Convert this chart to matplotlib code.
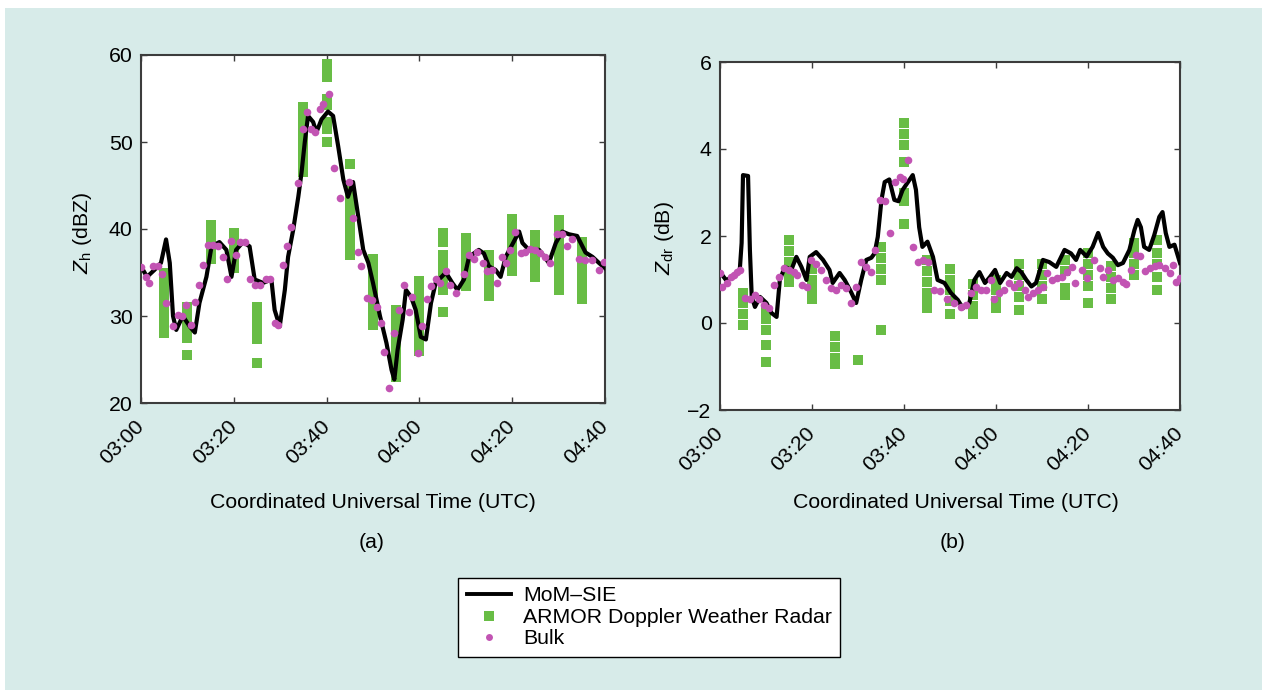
#!/usr/bin/env python
#
# Zh and Zdr time series: MoM-SIE vs ARMOR radar vs bulk
#
import numpy as np
import matplotlib
matplotlib.use("Agg")
from matplotlib import pyplot as plt
from matplotlib.patches import Rectangle
from matplotlib.lines import Line2D

######################################################
# Data (minutes after 03:00 UTC)
######################################################
tick_min = [0, 20, 40, 60, 80, 100]
tick_labels = ["03:00", "03:20", "03:40", "04:00", "04:20", "04:40"]

# (a) Zh
mom_a_t = [0, 1.3, 2.9, 4.3, 5.4, 6.2, 6.9, 7.6, 9, 10.5, 11.6, 12.6, 14.1, 15.2, 16.9,
           18.4, 19.5, 20.5, 22, 23.4, 24.5, 26.3, 28.1, 28.8, 29.9, 31, 31.7, 32.8, 33.9,
           34.6, 35.3, 36, 37.1, 37.8, 38.9, 40.3, 41.4, 42.5, 43.6, 44.6, 45.7, 46.8, 47.9,
           49, 50, 51.5, 52.9, 54, 54.6, 55.3, 56.4, 57.1, 58.2, 59.2, 60.3, 61.4, 62.5,
           63.5, 65.7, 67.1, 68.2, 69.6, 70.7, 72.8, 73.9, 75, 76.4, 77.5, 78.6, 79.6, 81.5,
           82.2, 83.6, 85.8, 87.9, 89.4, 90.8, 92.2, 94, 95.8, 97.3, 98.7, 100]
mom_a_v = [35.7, 34.5, 35.3, 36.1, 38.8, 36.1, 30, 28.4, 30, 28.8, 28.1, 31.5, 34.5, 38,
           38.5, 37.6, 34.5, 37.6, 38.5, 38, 34.2, 33.8, 34.2, 30.7, 28.8, 33, 36.8, 39.9,
           43.7, 46.5, 50, 53, 52.3, 51.1, 52.6, 53.5, 53, 49.5, 45.7, 43.7, 45.4, 41.5,
           37.6, 36.1, 33.8, 30, 26.9, 23.8, 22.7, 26.1, 29.6, 33, 32.2, 30.7, 27.6, 27.3,
           31.5, 33.8, 35, 33.8, 33, 34.2, 36.8, 37.6, 37.2, 35.7, 35.3, 34.5, 36.8, 37.8,
           39.7, 38.4, 37.6, 37.6, 36.1, 38.4, 39.7, 39.4, 39.2, 37.3, 36.8, 36.1, 35.5]

bulk_a_t = [0, 1, 1.7, 2.6, 3.7, 4.6, 5.3, 6.8, 8, 8.8, 9.6, 10.7, 11.7, 12.6, 13.4, 14.5,
            15.6, 16.7, 17.6, 18.6, 19.5, 20.5, 21.3, 22.5, 23.4, 24.5, 25.6, 26.9, 27.8,
            28.8, 29.5, 30.6, 31.4, 32.4, 33.8, 35, 35.8, 36.7, 37.6, 38.6, 39.3, 40.5, 41.5,
            42.9, 44.8, 45.6, 46.7, 47.4, 48.8, 49.8, 50.8, 51.7, 52.4, 53.5, 54.6, 55.6,
            56.7, 57.8, 58.5, 59.6, 60.6, 61.7, 62.4, 63.5, 64.5, 65.7, 66.7, 67.8, 69.6,
            70.7, 71.7, 72.5, 73.6, 74.6, 75.7, 76.8, 77.8, 78.6, 79.6, 80.7, 81.8, 82.8,
            83.9, 85, 86, 87.1, 88.2, 89.6, 90.7, 91.8, 92.8, 94.3, 95.7, 97.2, 98.6, 99.7]
bulk_a_v = [35.6, 34.5, 33.8, 35.8, 35.8, 34.8, 31.5, 28.8, 30.1, 30, 31.3, 29, 31.6, 33.6,
            35.9, 38.2, 38.2, 38, 36.8, 34.2, 38.6, 37, 38.5, 38.5, 34.2, 33.6, 33.6, 34.3,
            34.2, 29.2, 29, 35.9, 38, 40.2, 45.3, 51.5, 53.5, 51.5, 51.1, 53.8, 54.4, 55.5,
            47, 43.6, 45.4, 41.3, 37.3, 35.7, 32.1, 31.8, 31, 29.2, 25.9, 21.7, 28.1, 30.7,
            33.6, 30.5, 32.2, 25.8, 28.8, 32, 33.4, 34.2, 33.8, 35.2, 33.6, 32.6, 34.8, 37,
            36.6, 37.4, 36.1, 35.2, 35.3, 33.8, 36.8, 36.1, 37.6, 39.7, 37.2, 37.3, 37.7,
            37.6, 37.2, 36.8, 36.1, 39.4, 39.4, 38, 38.8, 36.6, 36.4, 36.4, 35.3, 36.2]

radar_a_t = [5, 10, 15, 20, 25, 35, 40, 45, 50, 55, 60, 65, 70, 75, 80, 85, 90, 95]
radar_a_v = [
    [35, 34, 33, 32, 31, 30, 29, 28],
    [31, 30, 29, 28, 27.5, 25.5],
    [40.5, 39.5, 38.5, 37.5, 36.5],
    [39.5, 38.5, 37.5, 36.5, 35.5],
    [31, 30, 29, 28, 27.3, 24.6],
    [54, 53, 52, 51, 50, 49, 48, 47, 46.5],
    [59, 58, 57.5, 55, 54.2, 52.3, 51.5, 50],
    [47.5, 44.5, 43.5, 42.5, 41.5, 40.5, 39.5, 38.5, 37.5, 37],
    [36.5, 35.5, 34.5, 33.5, 32.5, 31.5, 30.5, 29.5, 29],
    [30.7, 29.5, 28.5, 27.5, 26.5, 25.5, 24.5, 23.5, 23],
    [34, 33, 32, 31, 30, 29, 28, 27, 26],
    [39.5, 38.5, 37, 36, 35, 34, 33, 30.5],
    [39, 38, 37, 36, 35, 34, 33.5],
    [37, 36, 35, 34, 33, 32.3],
    [41.2, 40, 39, 38, 37, 36, 35.2],
    [39.3, 38.3, 37.3, 36.3, 35.3, 34.5],
    [41, 40, 39, 38, 37, 36, 35, 34, 33],
    [38.5, 37.5, 36.5, 35.5, 34.5, 33.5, 32.5, 32],
]

# (b) Zdr
mom_b_t = [0, 1.3, 2.8, 4.3, 4.7, 5.0, 6.1, 6.5, 6.9, 7.6, 8.7, 10.1, 11.2, 12.3, 13, 14.1,
           15.5, 16.6, 17.7, 18.8, 19.5, 20.9, 22.4, 23.8, 24.5, 26, 27.1, 28.5, 29.6, 30.7,
           31.8, 32.9, 33.6, 34.3, 35.1, 35.8, 36.8, 37.9, 38.8, 39.7, 41.9, 42.6, 43.3, 44,
           45.1, 46.3, 47.3, 48.8, 50.2, 51.7, 52.8, 54.2, 55.3, 56.4, 57.6, 58.7, 59.8, 60.9,
           62.3, 63.4, 64.5, 65.5, 66.6, 67.7, 68.7, 70.2, 71.6, 73.1, 74.9, 76.3, 77.4, 78.3,
           79.7, 81, 82.2, 83.3, 84.3, 85.4, 86.5, 87.6, 89, 90.1, 90.8, 91.5, 92.2, 93.3,
           94.4, 95.5, 96.2, 96.9, 97.7, 98.8, 100]
mom_b_v = [1.17, 0.99, 1.06, 1.22, 1.84, 3.4, 3.38, 1.68, 0.6, 0.37, 0.6, 0.46, 0.23, 0.14,
           0.99, 1.29, 1.22, 1.52, 1.29, 0.99, 1.52, 1.63, 1.45, 1.22, 0.92, 1.15, 0.99, 0.71,
           0.46, 0.99, 1.45, 1.5, 1.6, 1.98, 2.83, 3.24, 3.3, 2.83, 2.8, 3.06, 3.4, 3.06, 2.2,
           1.75, 1.87, 1.52, 0.99, 0.92, 0.69, 0.53, 0.34, 0.46, 0.99, 1.17, 0.92, 1.06, 1.22,
           0.92, 1.15, 1.06, 1.26, 1.17, 0.99, 0.84, 0.92, 1.45, 1.4, 1.29, 1.68, 1.6, 1.45,
           1.68, 1.53, 1.75, 2.07, 1.75, 1.6, 1.5, 1.33, 1.38, 1.68, 2.14, 2.37, 2.2, 1.75,
           1.68, 2.02, 2.44, 2.55, 2.07, 1.75, 1.8, 1.38]

bulk_b_t = [0, 0.5, 1.6, 2.3, 3, 3.7, 4.4, 5.5, 6.6, 7.7, 8.4, 9.5, 10.6, 11.7, 12.8, 13.9,
            15, 16, 16.8, 17.9, 19, 19.7, 20.8, 21.9, 23, 24.1, 25.3, 26.3, 27.4, 28.5, 29.6,
            30.7, 31.8, 32.9, 33.6, 34.7, 35.8, 36.9, 38, 39.1, 39.8, 40.9, 42, 43.1, 44.2,
            45.2, 46.5, 47.9, 49.4, 50.8, 52.3, 53.4, 54.5, 55.6, 56.7, 57.8, 58.9, 59.6,
            60.7, 61.8, 62.9, 64, 65.1, 66.2, 67, 68.1, 69.2, 70.3, 71, 72.1, 73.2, 74.3,
            75.4, 76.5, 77.2, 78.6, 79.7, 81.2, 82.6, 83.3, 84.4, 85.5, 86.5, 87.6, 88.3,
            89.4, 90.5, 91.2, 92.3, 93.4, 94.5, 95.5, 96.7, 97.8, 98.5, 99.2, 100]
bulk_b_v = [1.15, 0.83, 0.92, 1.06, 1.1, 1.17, 1.22, 0.57, 0.55, 0.64, 0.55, 0.41, 0.34,
            0.87, 1.06, 1.26, 1.22, 1.17, 1.1, 0.87, 0.83, 1.45, 1.36, 1.22, 0.99, 0.8, 0.76,
            0.87, 0.8, 0.46, 0.83, 1.4, 1.29, 1.17, 1.68, 2.83, 2.8, 2.07, 3.24, 3.35, 3.3,
            3.75, 1.75, 1.4, 1.44, 1.4, 0.76, 0.73, 0.55, 0.46, 0.37, 0.41, 0.69, 0.83, 0.76,
            0.76, 0.99, 0.55, 0.69, 0.76, 0.92, 0.83, 0.92, 0.76, 0.6, 0.69, 0.76, 0.83,
            1.14, 0.99, 1.03, 1.06, 1.17, 1.29, 0.92, 1.22, 1.03, 1.45, 1.27, 1.06, 1.22,
            1.0, 1.03, 0.94, 0.9, 1.22, 1.56, 1.53, 1.2, 1.27, 1.3, 1.33, 1.27, 1.15, 1.33,
            0.94, 1.03]

radar_b_t = [5, 10, 15, 20, 25, 30, 35, 40, 45, 50, 55, 60, 65, 70, 75, 80, 85, 90, 95]
radar_b_v = [
    [0.7, 0.45, 0.2, -0.05],
    [0.3, 0.1, -0.15, -0.5, -0.9],
    [1.9, 1.65, 1.4, 1.15, 0.95],
    [1.25, 1.0, 0.75, 0.55],
    [-0.3, -0.55, -0.8, -0.95],
    [-0.85],
    [1.75, 1.5, 1.25, 1.0, -0.15],
    [4.6, 4.35, 4.1, 3.7, 3.0, 2.8, 2.28],
    [1.45, 1.2, 0.95, 0.7, 0.45, 0.35],
    [1.25, 1.0, 0.75, 0.5, 0.2],
    [0.9, 0.65, 0.4, 0.2],
    [1.0, 0.75, 0.5, 0.35],
    [1.35, 1.1, 0.85, 0.6, 0.3],
    [1.35, 1.1, 0.85, 0.55],
    [1.45, 1.2, 0.8, 0.65],
    [1.6, 1.35, 1.1, 0.85, 0.45],
    [1.3, 1.05, 0.8, 0.55],
    [1.85, 1.6, 1.35, 1.1],
    [1.9, 1.6, 1.35, 1.05, 0.75],
]

######################################################
# Style
######################################################
plt.rcParams['font.family'] = ['Liberation Sans', 'DejaVu Sans']
plt.rcParams['font.size'] = 15.3
plt.rcParams['mathtext.fontset'] = 'custom'
plt.rcParams['mathtext.rm'] = 'Liberation Sans'
plt.rcParams['mathtext.it'] = 'Liberation Sans:italic'

bg = '#d7ebe9'
green = '#68bd45'
pink = '#c254b3'
frame = '#3c3c3c'

W, H = 1262, 697
fig = plt.figure(figsize=(W / 100., H / 100.), dpi=100, facecolor='white')
fig.patches.append(Rectangle((5. / W, 0.01), 1 - 5. / W, 1 - 0.01 - 8. / H,
                             transform=fig.transFigure, facecolor=bg, edgecolor='none',
                             zorder=-10))


def stack_points(times, vals):
    xs, ys = [], []
    for t, vv in zip(times, vals):
        for v in vv:
            xs.append(t)
            ys.append(v)
    return xs, ys


def panel(rect, mt, mv, bt, bv, rt, rv, ylim, yticks):
    ax = fig.add_axes(rect)
    ax.set_facecolor('white')
    rx, ry = stack_points(rt, rv)
    ax.plot(rx, ry, 's', color=green, markersize=7.2, markeredgewidth=0, zorder=2)
    ax.plot(mt, mv, '-', color='black', lw=3.0, zorder=3)
    ax.plot(bt, bv, 'o', color=pink, markersize=5.5, markeredgewidth=0, zorder=4)
    ax.set_xlim(0, 100)
    ax.set_ylim(ylim)
    ax.set_yticks(yticks)
    ax.set_yticklabels([str(y).replace('-', '\u2212') for y in yticks])
    ax.set_xticks(tick_min)
    ax.set_xticklabels(tick_labels, rotation=45, ha='right', va='center',
                       rotation_mode='anchor')
    ax.tick_params(direction='in', top=True, right=True, length=4, width=1,
                   color=frame, labelsize=15.3)
    ax.tick_params(axis='x', pad=15)
    ax.tick_params(axis='y', pad=6)
    for s in ax.spines.values():
        s.set_color(frame)
        s.set_linewidth(1.5)
    return ax


ax1 = panel([141. / W, 1 - 403. / H, 464. / W, 348. / H],
            mom_a_t, mom_a_v, bulk_a_t, bulk_a_v, radar_a_t, radar_a_v,
            (20, 60), [20, 30, 40, 50, 60])
ax2 = panel([720. / W, 1 - 410. / H, 460. / W, 348. / H],
            mom_b_t, mom_b_v, bulk_b_t, bulk_b_v, radar_b_t, radar_b_v,
            (-2, 6), [-2, 0, 2, 4, 6])

# Labels
fig.text(83. / W, 1 - 233. / H, r'$Z_{\mathrm{h}}$ (dBZ)', rotation=90,
         ha='center', va='center')
fig.text(665. / W, 1 - 238. / H, r'$Z_{\mathrm{dr}}$ (dB)', rotation=90,
         ha='center', va='center')
fig.text(373. / W, 1 - 502. / H, 'Coordinated Universal Time (UTC)',
         ha='center', va='center')
fig.text(956. / W, 1 - 502. / H, 'Coordinated Universal Time (UTC)',
         ha='center', va='center')
fig.text(372. / W, 1 - 543. / H, '(a)', ha='center', va='center')
fig.text(953. / W, 1 - 543. / H, '(b)', ha='center', va='center')

# Legend
handles = [Line2D([], [], color='black', lw=2.8),
           Line2D([], [], ls='none', marker='s', color=green, markersize=7,
                  markeredgewidth=0),
           Line2D([], [], ls='none', marker='o', color=pink, markersize=5,
                  markeredgewidth=0)]
leg = fig.legend(handles, ['MoM\u2013SIE', 'ARMOR Doppler Weather Radar', 'Bulk'],
                 loc='lower left', bbox_to_anchor=(458. / W, 1 - 657. / H),
                 borderaxespad=0, fancybox=False, framealpha=1, edgecolor='black',
                 fontsize=15.3, handlelength=2.1, handletextpad=0.55,
                 labelspacing=0.12, borderpad=0.4)
leg.get_frame().set_linewidth(1.0)

fig.savefig('out.png', dpi=100, facecolor=fig.get_facecolor())
